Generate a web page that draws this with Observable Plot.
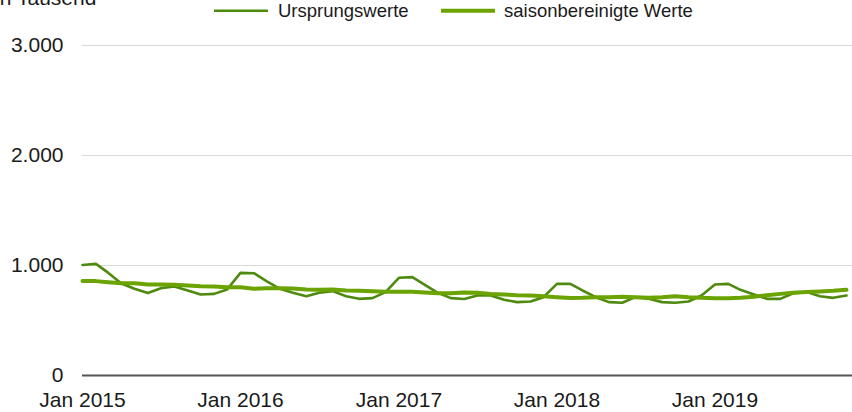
<!DOCTYPE html>
<html>
<head>
<meta charset="utf-8">
<script src="https://cdn.jsdelivr.net/npm/d3@7"></script>
<script src="https://cdn.jsdelivr.net/npm/@observablehq/plot@0.6"></script>
<style>
  html, body { margin: 0; padding: 0; background: #fff; }
  #wrap { position: relative; width: 852px; height: 412px; overflow: hidden; font-family: "Liberation Sans", Arial, sans-serif; }
  #overlay { position: absolute; left: 0; top: 0; }
</style>
</head>
<body>
<div id="wrap"></div>
<script>
// ---- data (in Tausend), monthly Jan 2015 – Nov 2019 ----
const startMonth = "2015-01-01";
const endMonth = "2019-11-01";
const seriesNames = ["Ursprungswerte", "saisonbereinigte Werte"];
const ursprungswerte = [
  1005, 1015, 935, 836, 788, 750, 794, 809, 773, 736, 742, 782,
  933, 930, 858, 788, 752, 721, 752, 767, 721, 697, 703, 758,
  888, 894, 827, 752, 703, 695, 727, 727, 688, 667, 673, 712,
  833, 833, 773, 712, 667, 661, 712, 697, 667, 661, 673, 727,
  827, 833, 779, 736, 697, 697, 748, 758, 721, 706, 727
];
const saisonbereinigt = [
  858, 858, 848, 839, 839, 827, 827, 824, 818, 812, 809, 803,
  803, 788, 794, 794, 791, 782, 779, 782, 773, 770, 767, 761,
  761, 761, 755, 748, 748, 755, 752, 742, 736, 730, 727, 721,
  712, 705, 706, 712, 712, 715, 712, 706, 712, 721, 712, 706,
  703, 703, 706, 715, 730, 742, 752, 758, 764, 770, 779
];
const yTicks = [0, 1000, 2000, 3000];
const xTickYears = [2015, 2016, 2017, 2018, 2019];
const yLabel = "In Tausend";

// ---- build ----
const months = d3.utcMonth.range(new Date(startMonth), d3.utcMonth.offset(new Date(endMonth), 1));
const rowsU = months.map((d, i) => ({date: d, value: ursprungswerte[i]}));
const rowsS = months.map((d, i) => ({date: d, value: saisonbereinigt[i]}));
const de = d3.formatLocale({decimal: ",", thousands: ".", grouping: [3], currency: ["", " €"]});
const fmt = de.format(",");
const xTicks = xTickYears.map(y => new Date(Date.UTC(y, 0, 1)));

const colU = "#4e8a0e";
const colS = "#6ba300";
const font = "Liberation Sans, Arial, sans-serif";

const chart = Plot.plot({
  width: 852,
  height: 412,
  marginLeft: 82,
  marginRight: 0,
  marginTop: 45,
  marginBottom: 37,
  style: {fontFamily: font, fontSize: "21px", color: "#1a1a1a", background: "#fff"},
  x: {type: "utc", domain: [months[0], months[months.length - 1]], range: [82, 846]},
  y: {domain: [0, 3000]},
  marks: [
    Plot.ruleY(yTicks.filter(d => d > 0), {stroke: "#d9d9d9", strokeWidth: 1, strokeOpacity: 1}),
    Plot.ruleY([0], {stroke: "#555", strokeWidth: 1.8}),
    Plot.axisY({ticks: yTicks, tickFormat: fmt, tickSize: 0, tickPadding: 19, fontSize: 21, fill: "#1a1a1a", label: null}),
    Plot.axisX({ticks: xTicks, tickFormat: d3.utcFormat("Jan %Y"), tickSize: 0, tickPadding: 17, fontSize: 21, fill: "#1a1a1a", label: null}),
    Plot.lineY(rowsU, {x: "date", y: "value", stroke: colU, strokeWidth: 2.6}),
    Plot.lineY(rowsS, {x: "date", y: "value", stroke: colS, strokeWidth: 4})
  ]
});
const wrap = document.getElementById("wrap");
wrap.appendChild(chart);

// ---- overlay: title + legend ----
const ns = "http://www.w3.org/2000/svg";
const ov = document.createElementNS(ns, "svg");
ov.setAttribute("id", "overlay");
ov.setAttribute("width", 852);
ov.setAttribute("height", 30);
function txt(x, y, s, size) {
  const t = document.createElementNS(ns, "text");
  t.setAttribute("x", x); t.setAttribute("y", y);
  t.setAttribute("font-family", font); t.setAttribute("font-size", size);
  t.setAttribute("fill", "#1a1a1a");
  t.textContent = s; ov.appendChild(t);
}
function ln(x1, x2, y, c, w) {
  const l = document.createElementNS(ns, "line");
  l.setAttribute("x1", x1); l.setAttribute("x2", x2);
  l.setAttribute("y1", y); l.setAttribute("y2", y);
  l.setAttribute("stroke", c); l.setAttribute("stroke-width", w);
  ov.appendChild(l);
}
txt(-6, 5, yLabel, 21);
ln(214, 268, 10.7, colU, 2.6);
txt(278, 17, seriesNames[0], 18.5);
ln(441, 495, 10.7, colS, 4);
txt(504, 17, seriesNames[1], 18.5);
wrap.appendChild(ov);
</script>
</body>
</html>
